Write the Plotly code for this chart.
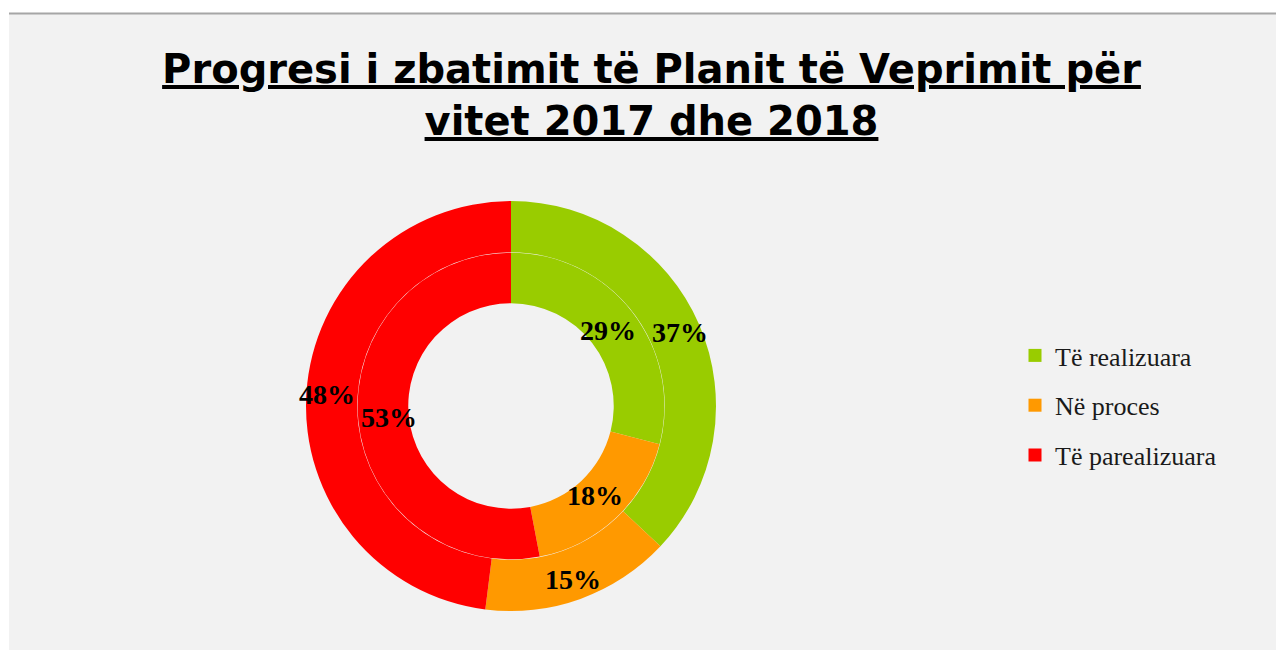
import math
import plotly.graph_objects as go

categories = ["Të realizuara", "Në proces", "Të parealizuara"]
outer_values = [37, 15, 48]   # outer ring
inner_values = [29, 18, 53]   # inner ring
colors = ["#99cc00", "#ff9900", "#ff0000"]
title_lines = ["Progresi i zbatimit të Planit të Veprimit për", "vitet 2017 dhe 2018"]

W, H = 1284, 650
OFF = 8          # page margin of the html body
cx, cy = 511, 406
D = 410
OUTER_HOLE = 0.75
INNER_SCALE = 0.748
INNER_HOLE = 0.67


def px_x(v):
    return (v - OFF) / W


def px_y(v):
    return (H - (v - OFF)) / H


label_font = dict(family="Liberation Serif", size=28, color="black", weight="bold")

fig = go.Figure()
fig.add_trace(go.Pie(
    labels=categories, values=outer_values, sort=False, direction="clockwise",
    rotation=0, hole=OUTER_HOLE, marker=dict(colors=colors, line=dict(width=0)),
    textinfo="none",
    domain=dict(x=[px_x(cx - D / 2), px_x(cx + D / 2)], y=[px_y(cy + D / 2), px_y(cy - D / 2)]),
    showlegend=False, hoverinfo="label+percent",
))
Di = D * INNER_SCALE
fig.add_trace(go.Pie(
    labels=categories, values=inner_values, sort=False, direction="clockwise",
    rotation=0, hole=INNER_HOLE, marker=dict(colors=colors, line=dict(width=0)),
    textinfo="none",
    domain=dict(x=[px_x(cx - Di / 2), px_x(cx + Di / 2)], y=[px_y(cy + Di / 2), px_y(cy - Di / 2)]),
    showlegend=False, hoverinfo="label+percent",
))
for name, c in zip(categories, colors):
    fig.add_trace(go.Scatter(
        x=[None], y=[None], mode="markers", name=name, legendgroup=name,
        marker=dict(symbol="square", size=13, color=c),
    ))

# percentage labels at each slice's mid-angle
annotations = []
for values, rfrac in ((outer_values, 0.9), (inner_values, 0.6)):
    total = sum(values)
    cum = 0
    for v in values:
        ang = math.radians(360 * (cum + v / 2) / total)
        cum += v
        lx = cx + rfrac * D / 2 * math.sin(ang)
        ly = cy - rfrac * D / 2 * math.cos(ang)
        annotations.append(dict(
            x=px_x(lx), y=px_y(ly), xref="paper", yref="paper",
            text=f"{round(100 * v / total)}%", showarrow=False,
            font=label_font, xanchor="center", yanchor="middle",
        ))

fig.update_layout(
    width=W, height=H,
    margin=dict(l=0, r=0, t=0, b=0),
    paper_bgcolor="#f2f2f2", plot_bgcolor="rgba(0,0,0,0)",
    xaxis=dict(visible=False), yaxis=dict(visible=False),
    title=dict(
        text="<br>".join("<b><u>" + t + "</u></b>" for t in title_lines),
        x=px_x(651.5), xanchor="center", y=px_y(83), yanchor="top",
        font=dict(family="DejaVu Sans", size=40, color="black"),
    ),
    legend=dict(
        x=px_x(1015), xanchor="left", y=px_y(332), yanchor="top",
        font=dict(family="Liberation Serif", size=26, color="#1a1a1a"),
        bgcolor="rgba(0,0,0,0)", tracegroupgap=13, traceorder="grouped",
    ),
    annotations=annotations,
    shapes=[
        dict(type="rect", xref="paper", yref="paper", x0=-0.01, x1=1.01, y0=px_y(13), y1=1.02,
             fillcolor="white", line=dict(width=0), layer="below"),
        dict(type="rect", xref="paper", yref="paper", x0=-0.01, x1=px_x(9), y0=-0.02, y1=1.02,
             fillcolor="white", line=dict(width=0), layer="below"),
        dict(type="line", xref="paper", yref="paper", x0=px_x(9), x1=1.01, y0=px_y(13.5), y1=px_y(13.5),
             line=dict(color="#a6a6a6", width=2), layer="below"),
    ],
)

fig.write_html("out.html")
